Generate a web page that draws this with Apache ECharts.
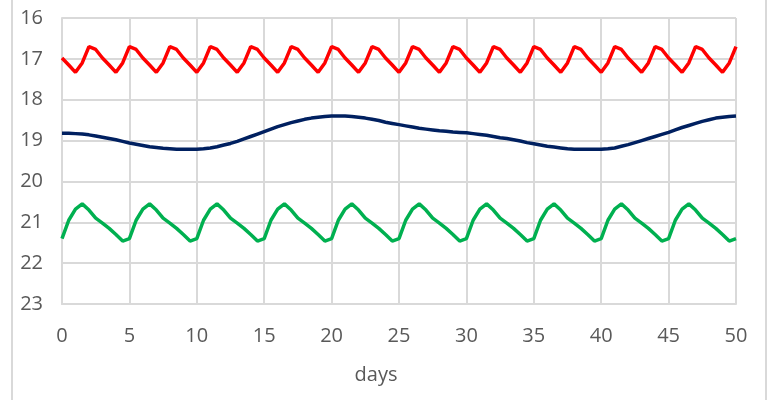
<!DOCTYPE html>
<html>
<head>
<meta charset="utf-8">
<script src="https://cdn.jsdelivr.net/npm/echarts@6/dist/echarts.min.js"></script>
<style>
  html, body { margin: 0; padding: 0; background: #fff; }
  #chart { width: 767px; height: 400px; }
</style>
</head>
<body>
<div id="chart"></div>
<script>
// days 0..50, one reading every half day
const days = []
for (let i = 0; i <= 100; i++) days.push(i / 2)

const xTicks = [0, 5, 10, 15, 20, 25, 30, 35, 40, 45, 50]
const yTicks = [16, 17, 18, 19, 20, 21, 22, 23]

const redSeries = [
  16.98, 17.15, 17.33, 17.10, 16.70, 16.77, 16.98, 17.15, 17.33, 17.10, 16.70, 16.77,
  16.98, 17.15, 17.33, 17.10, 16.70, 16.77, 16.98, 17.15, 17.33, 17.10, 16.70, 16.77,
  16.98, 17.15, 17.33, 17.10, 16.70, 16.77, 16.98, 17.15, 17.33, 17.10, 16.70, 16.77,
  16.98, 17.15, 17.33, 17.10, 16.70, 16.77, 16.98, 17.15, 17.33, 17.10, 16.70, 16.77,
  16.98, 17.15, 17.33, 17.10, 16.70, 16.77, 16.98, 17.15, 17.33, 17.10, 16.70, 16.77,
  16.98, 17.15, 17.33, 17.10, 16.70, 16.77, 16.98, 17.15, 17.33, 17.10, 16.70, 16.77,
  16.98, 17.15, 17.33, 17.10, 16.70, 16.77, 16.98, 17.15, 17.33, 17.10, 16.70, 16.77,
  16.98, 17.15, 17.33, 17.10, 16.70, 16.77, 16.98, 17.15, 17.33, 17.10, 16.70, 16.77,
  16.98, 17.15, 17.33, 17.10, 16.70
]

const navySeries = [
  18.82, 18.82, 18.83, 18.84, 18.86, 18.89, 18.92, 18.95, 18.98, 19.02,
  19.06, 19.09, 19.12, 19.15, 19.17, 19.19, 19.20, 19.21, 19.21, 19.21,
  19.21, 19.20, 19.18, 19.15, 19.11, 19.07, 19.02, 18.96, 18.90, 18.84,
  18.78, 18.72, 18.66, 18.61, 18.56, 18.52, 18.48, 18.45, 18.43, 18.41,
  18.40, 18.40, 18.40, 18.41, 18.43, 18.45, 18.48, 18.51, 18.55, 18.58,
  18.61, 18.64, 18.67, 18.70, 18.72, 18.74, 18.76, 18.77, 18.79, 18.80,
  18.81, 18.83, 18.85, 18.87, 18.90, 18.93, 18.95, 18.98, 19.01, 19.05,
  19.08, 19.11, 19.14, 19.16, 19.18, 19.20, 19.21, 19.21, 19.21, 19.21,
  19.21, 19.20, 19.18, 19.14, 19.10, 19.05, 19.00, 18.95, 18.90, 18.85,
  18.80, 18.74, 18.68, 18.63, 18.58, 18.53, 18.49, 18.45, 18.43, 18.41,
  18.40
]

const greenSeries = [
  21.40, 20.95, 20.68, 20.55, 20.70, 20.90, 21.02, 21.15, 21.30, 21.46,
  21.40, 20.95, 20.68, 20.55, 20.70, 20.90, 21.02, 21.15, 21.30, 21.46,
  21.40, 20.95, 20.68, 20.55, 20.70, 20.90, 21.02, 21.15, 21.30, 21.46,
  21.40, 20.95, 20.68, 20.55, 20.70, 20.90, 21.02, 21.15, 21.30, 21.46,
  21.40, 20.95, 20.68, 20.55, 20.70, 20.90, 21.02, 21.15, 21.30, 21.46,
  21.40, 20.95, 20.68, 20.55, 20.70, 20.90, 21.02, 21.15, 21.30, 21.46,
  21.40, 20.95, 20.68, 20.55, 20.70, 20.90, 21.02, 21.15, 21.30, 21.46,
  21.40, 20.95, 20.68, 20.55, 20.70, 20.90, 21.02, 21.15, 21.30, 21.46,
  21.40, 20.95, 20.68, 20.55, 20.70, 20.90, 21.02, 21.15, 21.30, 21.46,
  21.40, 20.95, 20.68, 20.55, 20.70, 20.90, 21.02, 21.15, 21.30, 21.46,
  21.40
]

const chart = echarts.init(document.getElementById('chart'))

const gridColor = '#d9d9d9'
const labelStyle = { color: '#595959', fontSize: 20, fontFamily: 'Open Sans' }

const makeLine = (name, values, color) => ({
  name: name,
  type: 'line',
  data: days.map((d, i) => [d, values[i]]),
  showSymbol: false,
  lineStyle: { color: color, width: 3.5 },
  itemStyle: { color: color },
  animation: false
})

const option = {
  grid: { left: 62, right: 31, top: 18, bottom: 96 },
  xAxis: {
    type: 'value',
    min: xTicks[0],
    max: xTicks[xTicks.length - 1],
    interval: 5,
    name: 'days',
    nameLocation: 'middle',
    nameGap: 61,
    nameTextStyle: { ...labelStyle, padding: [0, 46, 0, 0] },
    axisLine: { lineStyle: { color: gridColor, width: 2 } },
    axisTick: { show: false },
    axisLabel: { ...labelStyle, margin: 22 },
    splitLine: { show: true, lineStyle: { color: gridColor, width: 2 } }
  },
  yAxis: {
    type: 'value',
    inverse: true,
    min: yTicks[0],
    max: yTicks[yTicks.length - 1],
    interval: 1,
    axisLine: { show: true, lineStyle: { color: gridColor, width: 2 } },
    axisTick: { show: false },
    axisLabel: { ...labelStyle, margin: 19 },
    splitLine: { show: true, lineStyle: { color: gridColor, width: 2 } }
  },
  graphic: [
    { type: 'line', shape: { x1: 12, y1: 0, x2: 12, y2: 400 }, style: { stroke: gridColor, lineWidth: 2 } },
    { type: 'line', shape: { x1: 766, y1: 0, x2: 766, y2: 400 }, style: { stroke: gridColor, lineWidth: 2 } }
  ],
  series: [
    makeLine('red', redSeries, '#ff0000'),
    makeLine('navy', navySeries, '#002060'),
    makeLine('green', greenSeries, '#00b050')
  ]
}

chart.setOption(option)
</script>
</body>
</html>
